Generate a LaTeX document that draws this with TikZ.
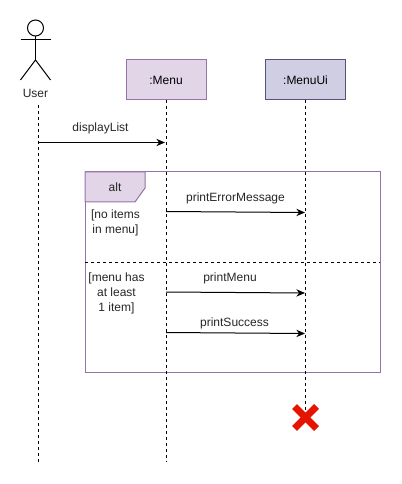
\documentclass[tikz,border=0pt]{standalone}
\usepackage{fontspec}
\setmainfont{Liberation Sans}
\usetikzlibrary{arrows.meta}
\definecolor{menufill}{HTML}{E1D5E7}
\definecolor{menuline}{HTML}{9673A6}
\definecolor{uifill}{HTML}{D0CEE2}
\definecolor{uiline}{HTML}{56517E}
\definecolor{crossred}{HTML}{E51400}
\tikzset{
  lifebox/.style={draw, minimum width=60pt, minimum height=30pt, inner sep=0pt, line width=0.75pt},
  lifeline/.style={black, dashed, dash pattern=on 2.25pt off 2.25pt, line width=0.75pt},
  msgarrow/.style={-{Stealth[length=6.5pt,width=5.5pt]}, line width=0.75pt},
  msglabel/.style={inner sep=0pt, text=black!85},
  guardlabel/.style={inner sep=0pt, align=center, text=black!85}
}
\begin{document}
\begin{tikzpicture}[x=0.75pt, y=-0.75pt, font=\fontsize{9}{11.2}\selectfont]
  \useasboundingbox (0,0) rectangle (402,484);
  % combined fragment, behind the lifelines
  \draw[menuline, line width=0.75pt] (85,172) rectangle (380,372);
  \draw[menuline, fill=menufill, line width=0.75pt] (85,172) -- (145,172) -- (145,188) -- (135,202) -- (85,202) -- cycle;
  \node[msglabel] (altLabel) at (115,187) {alt};
  \draw[dashed, dash pattern=on 2.25pt off 2.25pt, line width=0.75pt] (85,262) -- (380,262);
  \node[guardlabel] (guardEmpty) at (115.5,223) {[no items\\in menu]};
  \node[guardlabel] (guardItems) at (116.5,293) {[menu has\\at least\\1 item]};
  % actor
  \node[circle, draw, line width=0.75pt, minimum size=12pt, inner sep=0pt] (userHead) at (35.5,28) {};
  \coordinate (userHip) at (35.5,60);
  \coordinate (userArmL) at (20.5,40);
  \coordinate (userArmR) at (50.5,40);
  \coordinate (userFootL) at (20.5,80);
  \coordinate (userFootR) at (50.5,80);
  \draw[line width=0.75pt] (userHead) -- (userHip);
  \draw[line width=0.75pt] (userArmL) -- (userArmR);
  \draw[line width=0.75pt] (userFootL) -- (userHip) -- (userFootR);
  \node[msglabel] (userLabel) at (35.5,93.5) {User};
  % lifeline boxes
  \node[lifebox, draw=menuline, fill=menufill] (menuBox) at (166,80) {:Menu};
  \node[lifebox, draw=uiline, fill=uifill] (menuUiBox) at (305.5,80) {:MenuUi};
  % lifelines
  \coordinate (userTop) at (38.5,105);
  \coordinate (userEnd) at (38.5,462);
  \coordinate (menuEnd) at (166,462);
  \coordinate (menuUiEnd) at (305.5,417.5);
  \draw[lifeline] (userTop) -- (userEnd);
  \draw[lifeline] (menuBox) -- (menuEnd);
  \draw[lifeline] (menuUiBox) -- (menuUiEnd);
  % messages
  \coordinate (listFrom) at (39,142.5);
  \coordinate (listTo) at (165,142.5);
  \coordinate (errorFrom) at (166,211.5);
  \coordinate (errorTo) at (305,212.5);
  \coordinate (printFrom) at (166,292);
  \coordinate (printTo) at (305,293);
  \coordinate (okFrom) at (166,332.5);
  \coordinate (okTo) at (305,333.5);
  \draw[msgarrow] (listFrom) -- (listTo);
  \draw[msgarrow] (errorFrom) -- (errorTo);
  \draw[msgarrow] (printFrom) -- (printTo);
  \draw[msgarrow] (okFrom) -- (okTo);
  \node[msglabel] (listLabel) at (100.5,128) {displayList};
  \node[msglabel] (errorLabel) at (235.5,198) {printErrorMessage};
  \node[msglabel] (printLabel) at (230,278.5) {printMenu};
  \node[msglabel] (okLabel) at (234.5,323) {printSuccess};
  % destroy mark
  \draw[crossred, line width=5.2pt] (294.5,406.5) -- (316.5,428.5);
  \draw[crossred, line width=5.2pt] (294.5,428.5) -- (316.5,406.5);
\end{tikzpicture}
\end{document}
